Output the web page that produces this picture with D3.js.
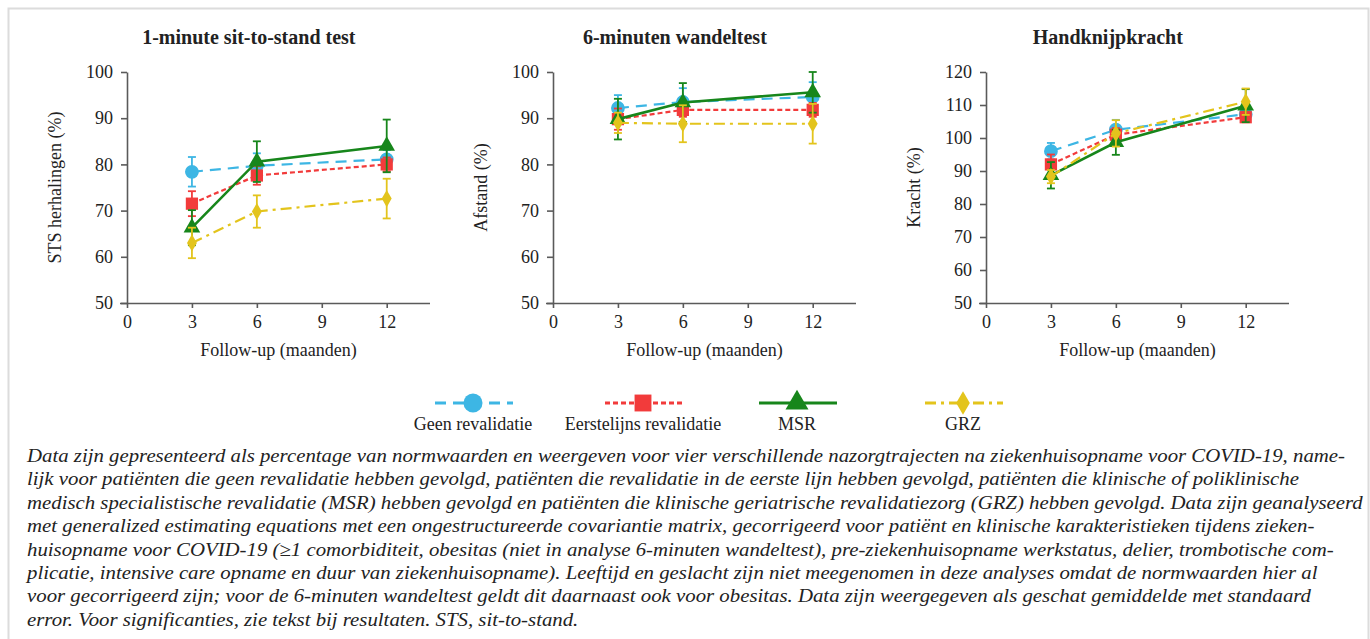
<!DOCTYPE html>
<html>
<head>
<meta charset="utf-8">
<script src="https://cdn.jsdelivr.net/npm/d3@7"></script>
<style>
	body { margin: 0; background: #fff; }
	svg text { font-family: "Liberation Serif", "Times New Roman", serif; fill: #222; }
</style>
</head>
<body>
<div id="chart"></div>
<script>
	// data (percentage of norm values, mean and standard error)
	var months = [3, 6, 12],
		xTicks = [0, 3, 6, 9, 12],
		groups = ["Geen revalidatie", "Eerstelijns revalidatie", "MSR", "GRZ"];

	// 1-minute sit-to-stand
	var stsMean = [[78.4, 79.7, 81.1], [71.5, 77.6, 80.0], [66.3, 80.6, 84.0], [63.0, 69.8, 72.6]],
		stsSe = [[3.2, 2.7, 2.0], [2.7, 2.0, 1.5], [3.8, 4.4, 5.7], [3.3, 3.5, 4.3]],
		stsTicks = [50, 60, 70, 80, 90, 100];

	// 6-minuten wandeltest
	var walkMean = [[92.2, 93.5, 94.6], [89.8, 91.8, 91.8], [89.8, 93.4, 95.6], [89.0, 88.8, 88.8]],
		walkSe = [[2.8, 3.0, 3.2], [2.3, 1.5, 1.5], [4.4, 4.2, 4.4], [2.2, 4.0, 4.3]],
		walkTicks = [50, 60, 70, 80, 90, 100];

	// handknijpkracht
	var gripMean = [[96.0, 102.5, 107.2], [92.0, 101.0, 106.3], [88.7, 98.7, 109.8], [88.3, 101.4, 111.0]],
		gripSe = [[2.5, 3.0, 1.5], [3.0, 2.0, 1.5], [4.0, 3.8, 5.0], [2.0, 4.0, 4.0]],
		gripTicks = [50, 60, 70, 80, 90, 100, 110, 120];

	var captionLines = [
		"Data zijn gepresenteerd als percentage van normwaarden en weergeven voor vier verschillende nazorgtrajecten na ziekenhuisopname voor COVID-19, name-",
		"lijk voor patiënten die geen revalidatie hebben gevolgd, patiënten die revalidatie in de eerste lijn hebben gevolgd, patiënten die klinische of poliklinische",
		"medisch specialistische revalidatie (MSR) hebben gevolgd en patiënten die klinische geriatrische revalidatiezorg (GRZ) hebben gevolgd. Data zijn geanalyseerd",
		"met generalized estimating equations met een ongestructureerde covariantie matrix, gecorrigeerd voor patiënt en klinische karakteristieken tijdens zieken-",
		"huisopname voor COVID-19 (≥1 comorbiditeit, obesitas (niet in analyse 6-minuten wandeltest), pre-ziekenhuisopname werkstatus, delier, trombotische com-",
		"plicatie, intensive care opname en duur van ziekenhuisopname). Leeftijd en geslacht zijn niet meegenomen in deze analyses omdat de normwaarden hier al",
		"voor gecorrigeerd zijn; voor de 6-minuten wandeltest geldt dit daarnaast ook voor obesitas. Data zijn weergegeven als geschat gemiddelde met standaard",
		"error. Voor significanties, zie tekst bij resultaten. STS, sit-to-stand."
	];

	// styling per group
	var colors = ["#3db6e4", "#f23b3b", "#17861b", "#e3c41c"],
		dashes = ["11,7", "5,3", null, "11,5,3,5"],
		lineWidths = [2.2, 2.2, 2.6, 2.2],
		symbols = [d3.symbolCircle, d3.symbolSquare, d3.symbolTriangle, d3.symbolDiamond],
		symbolSizes = [150, 150, 120, 85];

	var width = 1370,
		height = 639;

	var svg = d3.select("#chart").append("svg")
		.attr("width", width)
		.attr("height", height);

	// light frame
	svg.append("path")
		.attr("d", "M8.5,639 V8.5 H1368.5 V639")
		.attr("fill", "none")
		.attr("stroke", "#dcdcdc")
		.attr("stroke-width", 2);

	var panels = [
		{ title: "1-minute sit-to-stand test", ylabel: "STS herhalingen (%)", left: 127, mean: stsMean, se: stsSe, ticks: stsTicks },
		{ title: "6-minuten wandeltest", ylabel: "Afstand (%)", left: 553, mean: walkMean, se: walkSe, ticks: walkTicks },
		{ title: "Handknijpkracht", ylabel: "Kracht (%)", left: 986, mean: gripMean, se: gripSe, ticks: gripTicks }
	];

	var plotTop = 72,
		plotBottom = 303,
		plotW = 303;

	panels.forEach(function(p) {
		var g = svg.append("g").attr("transform", "translate(" + p.left + ",0)");

		var x = d3.scaleLinear().domain([0, 14]).range([0, plotW]);
		var y = d3.scaleLinear().domain(d3.extent(p.ticks)).range([plotBottom, plotTop]);

		// title
		g.append("text")
			.attr("x", x(6) - 8)
			.attr("y", 44)
			.attr("text-anchor", "middle")
			.style("font-size", "20px")
			.style("font-weight", "bold")
			.text(p.title);

		// axes
		var xAxis = g.append("g")
			.attr("transform", "translate(0," + plotBottom + ")")
			.call(d3.axisBottom(x).tickValues(xTicks).tickSize(5).tickSizeOuter(0).tickPadding(7));

		var yAxis = g.append("g")
			.call(d3.axisLeft(y).tickValues(p.ticks).tickSize(6).tickSizeOuter(0).tickPadding(8));

		// x axis line starts a bit left of the y axis
		xAxis.select(".domain").attr("d", "M-7,0.5H" + plotW);

		[xAxis, yAxis].forEach(function(a) {
			a.selectAll(".domain, line").attr("stroke", "#5a5a5a").attr("stroke-width", 1.6);
			a.selectAll("text")
				.style("font-family", "'Liberation Serif', serif")
				.style("font-size", "18px")
				.attr("fill", "#222");
		});

		g.append("text")
			.attr("x", x(7))
			.attr("y", 356)
			.attr("text-anchor", "middle")
			.style("font-size", "18px")
			.text("Follow-up (maanden)");

		g.append("text")
			.attr("transform", "translate(-66," + ((plotTop + plotBottom) / 2) + ") rotate(-90)")
			.attr("text-anchor", "middle")
			.style("font-size", "18px")
			.text(p.ylabel);

		var line = d3.line()
			.x(function(d, i) { return x(months[i]); })
			.y(function(d) { return y(d); });

		// series, drawn in order so MSR and GRZ end up on top
		groups.forEach(function(name, k) {
			var s = g.append("g").attr("class", "series");

			// error bars
			var bars = s.selectAll(".err")
				.data(p.mean[k]).enter()
				.append("g")
				.attr("class", "err")
				.attr("stroke", colors[k])
				.attr("stroke-width", 1.8);

			bars.append("line")
				.attr("x1", function(d, i) { return x(months[i]); })
				.attr("x2", function(d, i) { return x(months[i]); })
				.attr("y1", function(d, i) { return y(d - p.se[k][i]); })
				.attr("y2", function(d, i) { return y(d + p.se[k][i]); });

			[-1, 1].forEach(function(sign) {
				bars.append("line")
					.attr("x1", function(d, i) { return x(months[i]) - 4; })
					.attr("x2", function(d, i) { return x(months[i]) + 4; })
					.attr("y1", function(d, i) { return y(d + sign * p.se[k][i]); })
					.attr("y2", function(d, i) { return y(d + sign * p.se[k][i]); });
			});

			s.append("path")
				.datum(p.mean[k])
				.attr("d", line)
				.attr("fill", "none")
				.attr("stroke", colors[k])
				.attr("stroke-width", lineWidths[k])
				.attr("stroke-dasharray", dashes[k]);

			s.selectAll(".mark")
				.data(p.mean[k]).enter()
				.append("path")
				.attr("class", "mark")
				.attr("transform", function(d, i) { return "translate(" + x(months[i]) + "," + y(d) + ")"; })
				.attr("d", d3.symbol().type(symbols[k]).size(symbolSizes[k]))
				.attr("fill", colors[k]);
		});
	});

	// legend
	var legendX = [473, 643, 797, 963];
	var legend = svg.selectAll(".legend")
		.data(groups).enter()
		.append("g")
		.attr("class", "legend")
		.attr("transform", function(d, i) { return "translate(" + legendX[i] + ",403)"; });

	legend.append("line")
		.attr("x1", -38).attr("x2", 40)
		.attr("stroke", function(d, i) { return colors[i]; })
		.attr("stroke-width", function(d, i) { return lineWidths[i] + 0.6; })
		.attr("stroke-dasharray", function(d, i) { return dashes[i]; });

	legend.append("path")
		.attr("d", function(d, i) { return d3.symbol().type(symbols[i]).size(symbolSizes[i] * 1.9)(); })
		.attr("fill", function(d, i) { return colors[i]; });

	legend.append("text")
		.attr("y", 27)
		.attr("text-anchor", "middle")
		.style("font-size", "18px")
		.text(function(d) { return d; });

	// caption, squeezed horizontally like the condensed italic in the source
	var caption = svg.append("g")
		.style("font-family", "'Liberation Serif', serif")
		.style("font-style", "italic")
		.style("font-size", "19px");

	var capText = caption.selectAll("text")
		.data(captionLines).enter()
		.append("text")
		.attr("x", 27)
		.attr("y", function(d, i) { return 462 + i * 23.4; })
		.attr("fill", "#222")
		.text(function(d) { return d; });

	var squeeze = 1318 / capText.node().getComputedTextLength();
	capText.each(function() {
		var w = this.getComputedTextLength();
		d3.select(this)
			.attr("textLength", w * squeeze)
			.attr("lengthAdjust", "spacingAndGlyphs");
	});
</script>
</body>
</html>
